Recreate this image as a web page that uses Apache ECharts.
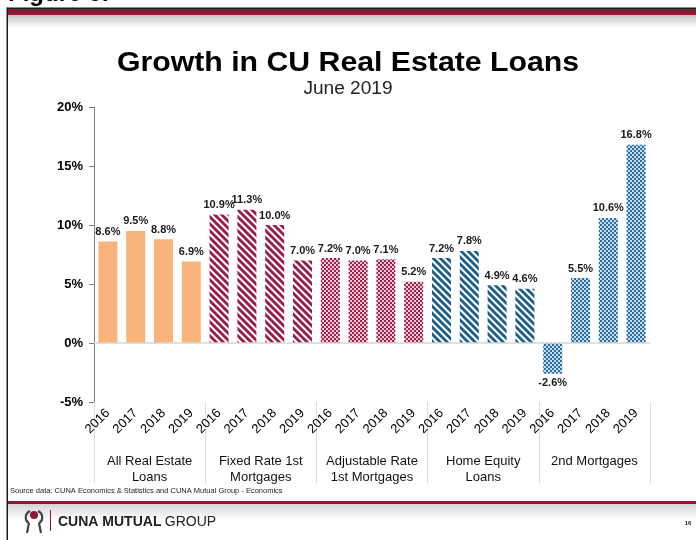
<!DOCTYPE html>
<html>
<head>
<meta charset="utf-8">
<script src="https://cdn.jsdelivr.net/npm/echarts@6/dist/echarts.min.js"></script>
<style>
  html, body { margin: 0; padding: 0; background: #fff; }
  #chart { width: 696px; height: 540px; }
</style>
</head>
<body>
<div id="chart"></div>
<script>
// Loan categories and the years shown inside each of them
const groups = ['All Real Estate\nLoans', 'Fixed Rate 1st\nMortgages', 'Adjustable Rate\n1st Mortgages', 'Home Equity\nLoans', '2nd Mortgages'];
const years = ['2016', '2017', '2018', '2019'];

// Annual growth, percent
const allRealEstate = [8.6, 9.5, 8.8, 6.9];
const fixedRate1st = [10.9, 11.3, 10.0, 7.0];
const adjustableRate1st = [7.2, 7.0, 7.1, 5.2];
const homeEquity = [7.2, 7.8, 4.9, 4.6];
const secondMortgages = [-2.6, 5.5, 10.6, 16.8];

// Value axis ticks
const yMin = -5, yMax = 20, yStep = 5;

const FONT = 'Arial, "Liberation Sans", sans-serif';

// ---- fill patterns ----
function stripePattern(color, size, width) {
  const c = document.createElement('canvas');
  c.width = size; c.height = size;
  const g = c.getContext('2d');
  g.fillStyle = '#fff';
  g.fillRect(0, 0, size, size);
  g.strokeStyle = color;
  g.lineWidth = width;
  for (let k = -1; k <= 1; k++) {
    g.beginPath();
    g.moveTo(k * size - 1, -1);
    g.lineTo(k * size + size + 1, size + 1);
    g.stroke();
  }
  return { image: c, repeat: 'repeat' };
}
function checkerPattern(dark, light) {
  const c = document.createElement('canvas');
  c.width = 4; c.height = 4;
  const g = c.getContext('2d');
  g.fillStyle = light;
  g.fillRect(0, 0, 4, 4);
  g.fillStyle = dark;
  g.fillRect(0, 0, 2, 2);
  g.fillRect(2, 2, 2, 2);
  return { image: c, repeat: 'repeat' };
}

const fills = [
  '#F9B47C',
  stripePattern('#9C1B45', 7, 2.8),
  checkerPattern('#9E2150', '#ecc8d3'),
  stripePattern('#1B5E8E', 7, 2.8),
  checkerPattern('#2F6EA0', '#c4dbeb')
];
const seriesValues = [allRealEstate, fixedRate1st, adjustableRate1st, homeEquity, secondMortgages];

// one category per (group, year)
const categories = [];
groups.forEach((g, gi) => years.forEach(y => categories.push(gi + '|' + y)));

const series = seriesValues.map((vals, gi) => {
  const data = categories.map(() => '-');
  vals.forEach((v, yi) => { data[gi * years.length + yi] = v; });
  return {
    type: 'bar',
    name: groups[gi],
    data: data,
    barWidth: 19,
    barGap: '-100%',
    itemStyle: { color: fills[gi] },
    label: {
      show: true,
      position: 'outside',
      distance: 4,
      fontFamily: FONT,
      fontWeight: 'bold',
      fontSize: 11,
      color: '#1a1a1a',
      formatter: p => p.value.toFixed(1) + '%'
    }
  };
});
series[0].markLine = {
  silent: true,
  symbol: 'none',
  label: { show: false },
  lineStyle: { color: '#d6d6d6', type: 'solid', width: 1.5 },
  data: [{ yAxis: 0 }]
};

const chart = echarts.init(document.getElementById('chart'), null, { renderer: 'canvas' });

const option = {
  animation: false,
  backgroundColor: '#fff',
  grid: { left: 94, right: 46, top: 107, bottom: 138 },
  xAxis: [
    {
      type: 'category',
      data: categories,
      position: 'bottom',
      axisLine: { show: false, onZero: false },
      axisTick: { show: false },
      axisLabel: {
        interval: 0,
        rotate: 45,
        margin: 9,
        fontFamily: FONT,
        fontSize: 13,
        color: '#000',
        formatter: v => v.split('|')[1]
      }
    },
    {
      type: 'category',
      data: groups,
      position: 'bottom',
      axisLine: { show: false, onZero: false },
      axisTick: { show: true, interval: 0, length: 81, lineStyle: { color: '#dcdcdc', width: 1 } },
      axisLabel: {
        interval: 0,
        margin: 51,
        fontFamily: FONT,
        fontSize: 13,
        lineHeight: 16,
        color: '#111'
      }
    }
  ],
  yAxis: {
    type: 'value',
    min: yMin,
    max: yMax,
    interval: yStep,
    axisLine: { show: true, lineStyle: { color: '#808080', width: 1 } },
    axisTick: { show: true, length: 5, lineStyle: { color: '#808080' } },
    splitLine: { show: false },
    axisLabel: {
      margin: 11,
      fontFamily: FONT,
      fontWeight: 'bold',
      fontSize: 13,
      color: '#000',
      formatter: '{value}%'
    }
  },
  graphic: [
    // slide frame
    { type: 'rect', silent: true, z: -10, shape: { x: 7, y: 7.5, width: 700, height: 1.5 }, style: { fill: '#1a1a1a' } },
    { type: 'rect', silent: true, z: -10, shape: { x: 8, y: 9, width: 700, height: 6 }, style: { fill: '#8B1A35' } },
    { type: 'rect', silent: true, z: -10, shape: { x: 8, y: 15, width: 700, height: 13 },
      style: { fill: new echarts.graphic.LinearGradient(0, 0, 0, 1, [{ offset: 0, color: '#c4c4c4' }, { offset: 1, color: '#ffffff' }]) } },
    { type: 'rect', silent: true, z: -10, shape: { x: 6.5, y: 7.5, width: 1.5, height: 540 }, style: { fill: '#1a1a1a' } },
    { type: 'rect', silent: true, z: -10, shape: { x: 8, y: 501, width: 700, height: 3 }, style: { fill: '#8B1A35' } },
    { type: 'rect', silent: true, z: -10, shape: { x: 8, y: 504, width: 700, height: 16 },
      style: { fill: new echarts.graphic.LinearGradient(0, 0, 0, 1, [{ offset: 0, color: '#d4d4d4' }, { offset: 1, color: '#ffffff' }]) } },
    // caption above the slide
    { type: 'text', silent: true, x: 8, y: 6, style: { text: 'Figure 6:', font: 'bold 24px ' + FONT, fill: '#000', verticalAlign: 'bottom' } },
    // titles
    { type: 'text', silent: true, x: 348, y: 63, scaleX: 1.08,
      style: { text: 'Growth in CU Real Estate Loans', font: 'bold 28px ' + FONT, fill: '#000', align: 'center', verticalAlign: 'middle' } },
    { type: 'text', silent: true, x: 348, y: 89, scaleX: 1.06,
      style: { text: 'June 2019', font: '18px ' + FONT, fill: '#222', align: 'center', verticalAlign: 'middle' } },
    // source note
    { type: 'text', silent: true, x: 10, y: 491,
      style: { text: 'Source data: CUNA Economics & Statistics and CUNA Mutual Group - Economics', font: '7.5px ' + FONT, fill: '#222', verticalAlign: 'middle' } },
    // logo mark
    { type: 'circle', silent: true, shape: { cx: 34, cy: 515, r: 4 }, style: { fill: '#8B1A35' } },
    { type: 'bezierCurve', silent: true, shape: { x1: 30, y1: 511, cpx1: 24, cpy1: 514, cpx2: 25, cpy2: 521, x2: 29, y2: 523 },
      style: { fill: 'none', stroke: '#444', lineWidth: 2.2 } },
    { type: 'bezierCurve', silent: true, shape: { x1: 38, y1: 511, cpx1: 44, cpy1: 514, cpx2: 43, cpy2: 521, x2: 39, y2: 523 },
      style: { fill: 'none', stroke: '#444', lineWidth: 2.2 } },
    { type: 'line', silent: true, shape: { x1: 29, y1: 523, x2: 27, y2: 533 }, style: { stroke: '#444', lineWidth: 2.2 } },
    { type: 'line', silent: true, shape: { x1: 39, y1: 523, x2: 41, y2: 533 }, style: { stroke: '#444', lineWidth: 2.2 } },
    { type: 'rect', silent: true, shape: { x: 50, y: 510, width: 1, height: 21 }, style: { fill: '#8B1A35' } },
    { type: 'text', silent: true, x: 58, y: 522,
      style: { text: '{b|CUNA MUTUAL} {r|GROUP}', verticalAlign: 'middle',
        rich: {
          b: { font: 'bold 14px ' + FONT, fill: '#222' },
          r: { font: '14px ' + FONT, fill: '#222' }
        } } },
    { type: 'text', silent: true, x: 688, y: 523, style: { text: '16', font: 'bold 6px ' + FONT, fill: '#222', align: 'center', verticalAlign: 'middle' } }
  ],
  series: series
};

chart.setOption(option);
</script>
</body>
</html>
